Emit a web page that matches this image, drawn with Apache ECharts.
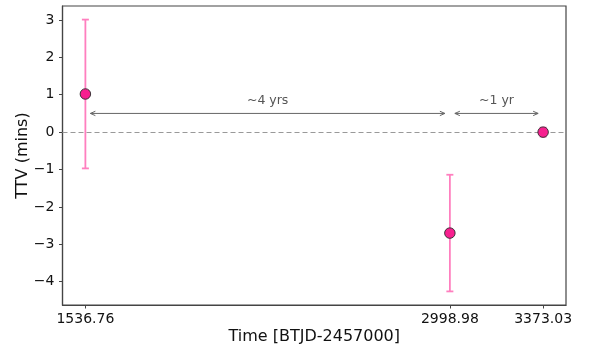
<!DOCTYPE html>
<html>
<head>
<meta charset="utf-8">
<script src="https://cdn.jsdelivr.net/npm/echarts@6/dist/echarts.min.js"></script>
<style>
  html, body { margin: 0; padding: 0; background: #fff; }
  #chart { width: 591px; height: 350px; }
</style>
</head>
<body>
<div id="chart"></div>
<script>
// Transit epochs (BTJD-2457000) and their timing variations in minutes
const epochs = [1536.76, 2998.98, 3373.03];
const ttv = [1.02, -2.70, 0.0];
const ttvErr = [1.99, 1.56, 0.12];

// Tick positions
const xTicks = [1536.76, 2998.98, 3373.03];
const yTicks = [-4, -3, -2, -1, 0, 1, 2, 3];

// Baseline spans marked with double-headed arrows: start, end, height, text
const spanStart = [1536.76, 2998.98];
const spanEnd = [2998.98, 3373.03];
const spanY = [0.5, 0.5];
const spanText = ['~4 yrs', '~1 yr'];
const spanInset = 20; // arrows stop a little short of the epochs (days)

const FONT = 'DejaVu Sans';
const AXIS_COLOR = '#444';

// Axis limits padded 5% beyond the data (including error bars)
const xPad = 0.05 * (Math.max(...epochs) - Math.min(...epochs));
const yHi = Math.max(...ttv.map((v, i) => v + ttvErr[i]));
const yLo = Math.min(...ttv.map((v, i) => v - ttvErr[i]));
const yPad = 0.05 * (yHi - yLo);

const chart = echarts.init(document.getElementById('chart'), null, { renderer: 'canvas' });

const errData = epochs.map((t, i) => [t, ttv[i], ttvErr[i]]);
const pointData = epochs.map((t, i) => [t, ttv[i]]);
const spanData = spanStart.map((s, i) => [s + spanInset, spanEnd[i] - spanInset, spanY[i]]);

function renderErr(params, api) {
  const x = api.value(0), y = api.value(1), e = api.value(2);
  const top = api.coord([x, y + e]);
  const bot = api.coord([x, y - e]);
  const cap = 3.5;
  const style = { stroke: '#ff7fbf', lineWidth: 1.8 };
  return {
    type: 'group',
    children: [
      { type: 'line', shape: { x1: top[0], y1: top[1], x2: bot[0], y2: bot[1] }, style },
      { type: 'line', shape: { x1: top[0] - cap, y1: top[1], x2: top[0] + cap, y2: top[1] }, style },
      { type: 'line', shape: { x1: bot[0] - cap, y1: bot[1], x2: bot[0] + cap, y2: bot[1] }, style }
    ]
  };
}

function renderSpan(params, api) {
  const a = api.coord([api.value(0), api.value(2)]);
  const b = api.coord([api.value(1), api.value(2)]);
  const hl = 5, hw = 2.2;
  const style = { stroke: '#666', lineWidth: 1, fill: null };
  const midX = (a[0] + b[0]) / 2;
  return {
    type: 'group',
    children: [
      { type: 'line', shape: { x1: a[0], y1: a[1], x2: b[0], y2: b[1] }, style },
      { type: 'polyline', shape: { points: [[a[0] + hl, a[1] - hw], [a[0], a[1]], [a[0] + hl, a[1] + hw]] }, style },
      { type: 'polyline', shape: { points: [[b[0] - hl, b[1] - hw], [b[0], b[1]], [b[0] - hl, b[1] + hw]] }, style },
      {
        type: 'text',
        x: midX, y: a[1] - 6,
        style: {
          text: spanText[params.dataIndex],
          fontFamily: FONT, fontSize: 12.5, fill: '#555',
          align: 'center', verticalAlign: 'bottom'
        }
      }
    ]
  };
}

chart.setOption({
  animation: false,
  backgroundColor: '#fff',
  grid: { left: 62.5, right: 25, top: 6, bottom: 44.3, show: true, borderColor: AXIS_COLOR, borderWidth: 1.2, containLabel: false },
  xAxis: {
    type: 'value',
    min: Math.min(...epochs) - xPad,
    max: Math.max(...epochs) + xPad,
    name: 'Time [BTJD-2457000]',
    nameLocation: 'middle',
    nameGap: 24,
    nameMoveOverlap: false,
    nameTextStyle: { fontFamily: FONT, fontSize: 16, color: '#111' },
    axisLine: { show: true, onZero: false, lineStyle: { color: AXIS_COLOR, width: 1.2 } },
    axisTick: { show: true, length: 3.5, customValues: xTicks, lineStyle: { color: AXIS_COLOR } },
    axisLabel: {
      customValues: xTicks, margin: 7,
      fontFamily: FONT, fontSize: 14, color: '#111',
      formatter: v => v.toFixed(2)
    },
    splitLine: { show: false }
  },
  yAxis: {
    type: 'value',
    min: yLo - yPad,
    max: yHi + yPad,
    name: 'TTV (mins)',
    nameLocation: 'middle',
    nameGap: 32,
    nameMoveOverlap: false,
    nameRotate: 90,
    nameTextStyle: { fontFamily: FONT, fontSize: 16, color: '#111' },
    axisLine: { show: true, onZero: false, lineStyle: { color: AXIS_COLOR, width: 1.2 } },
    axisTick: { show: true, length: 3.5, customValues: yTicks, lineStyle: { color: AXIS_COLOR } },
    axisLabel: {
      customValues: yTicks, margin: 8,
      fontFamily: FONT, fontSize: 14, color: '#111',
      formatter: v => (v < 0 ? '\u2212' + Math.abs(v) : String(v))
    },
    splitLine: { show: false }
  },
  series: [
    {
      type: 'line',
      data: [],
      silent: true,
      markLine: {
        silent: true,
        symbol: ['none', 'none'],
        label: { show: false },
        lineStyle: { color: '#999', type: [5, 3], width: 1.2 },
        data: [{ yAxis: 0 }]
      }
    },
    {
      type: 'custom',
      renderItem: renderSpan,
      data: spanData,
      silent: true,
      z: 3
    },
    {
      type: 'custom',
      renderItem: renderErr,
      data: errData,
      silent: true,
      z: 4
    },
    {
      type: 'scatter',
      data: pointData,
      symbol: 'circle',
      symbolSize: 10.5,
      itemStyle: { color: '#f7208f', borderColor: '#2a2a2a', borderWidth: 0.9, opacity: 1 },
      z: 5
    }
  ]
});
</script>
</body>
</html>
